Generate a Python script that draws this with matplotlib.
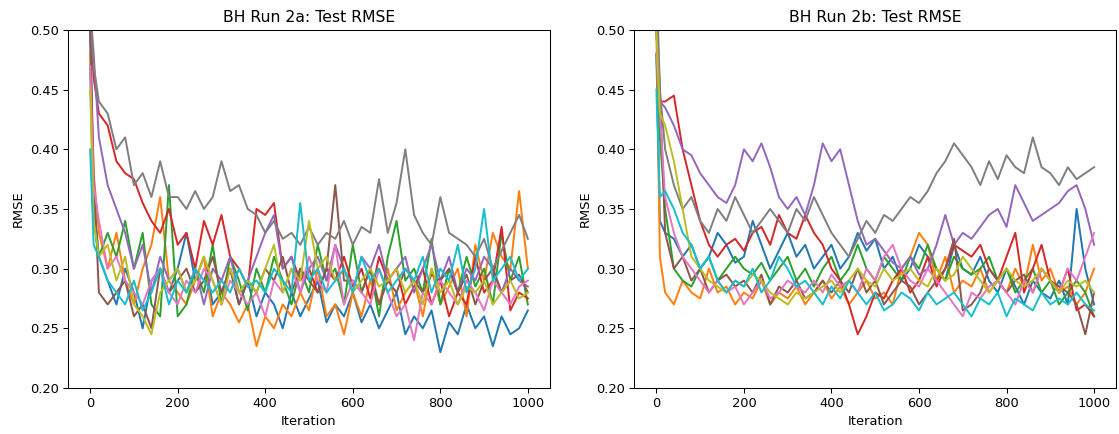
import matplotlib
matplotlib.use("Agg")
import matplotlib.pyplot as plt

iters = [0, 8] + list(range(20, 1001, 20))

# ── Run 2a ───────────────────────────────────────────────────────────
run2a_blue = [0.50, 0.36, 0.31, 0.29, 0.27, 0.30, 0.28, 0.25, 0.29, 0.30, 0.28, 0.30, 0.33,
              0.29, 0.31, 0.27, 0.28, 0.30, 0.27, 0.29, 0.26, 0.28, 0.27, 0.25, 0.28, 0.26,
              0.275, 0.29, 0.255, 0.27, 0.26, 0.28, 0.255, 0.27, 0.25, 0.265, 0.28, 0.245, 0.26,
              0.25, 0.265, 0.23, 0.255, 0.245, 0.27, 0.25, 0.26, 0.235, 0.26, 0.245, 0.25, 0.265]
run2a_orange = [0.48, 0.38, 0.33, 0.30, 0.33, 0.29, 0.27, 0.30, 0.32, 0.36, 0.29, 0.28, 0.27,
                0.29, 0.31, 0.26, 0.28, 0.27, 0.255, 0.27, 0.235, 0.26, 0.25, 0.27, 0.26, 0.28,
                0.265, 0.30, 0.26, 0.27, 0.245, 0.28, 0.26, 0.29, 0.27, 0.30, 0.265, 0.28, 0.29,
                0.26, 0.30, 0.27, 0.285, 0.30, 0.26, 0.32, 0.29, 0.33, 0.31, 0.30, 0.365, 0.30]
run2a_green = [0.47, 0.34, 0.31, 0.33, 0.31, 0.34, 0.30, 0.33, 0.27, 0.26, 0.37, 0.26, 0.27,
               0.30, 0.28, 0.32, 0.27, 0.31, 0.29, 0.265, 0.30, 0.28, 0.31, 0.29, 0.27, 0.30,
               0.28, 0.32, 0.29, 0.30, 0.27, 0.32, 0.28, 0.30, 0.26, 0.31, 0.34, 0.29, 0.30,
               0.28, 0.325, 0.27, 0.30, 0.28, 0.31, 0.285, 0.30, 0.27, 0.33, 0.29, 0.31, 0.27]
run2a_red = [0.52, 0.46, 0.43, 0.42, 0.39, 0.38, 0.375, 0.355, 0.34, 0.33, 0.35, 0.32, 0.33,
             0.30, 0.34, 0.32, 0.345, 0.31, 0.30, 0.285, 0.35, 0.345, 0.355, 0.30, 0.31, 0.29,
             0.30, 0.28, 0.30, 0.29, 0.31, 0.285, 0.30, 0.275, 0.31, 0.29, 0.30, 0.27, 0.285,
             0.30, 0.27, 0.29, 0.26, 0.28, 0.27, 0.31, 0.28, 0.29, 0.335, 0.265, 0.28, 0.275]
run2a_purple = [0.52, 0.48, 0.41, 0.37, 0.35, 0.33, 0.30, 0.32, 0.28, 0.31, 0.29, 0.30, 0.28,
                0.30, 0.27, 0.30, 0.29, 0.31, 0.28, 0.29, 0.31, 0.33, 0.345, 0.30, 0.31, 0.28,
                0.30, 0.31, 0.29, 0.32, 0.30, 0.28, 0.31, 0.30, 0.32, 0.29, 0.30, 0.31, 0.28,
                0.30, 0.32, 0.29, 0.31, 0.28, 0.30, 0.29, 0.31, 0.30, 0.28, 0.30, 0.29, 0.285]
run2a_brown = [0.50, 0.38, 0.28, 0.27, 0.28, 0.29, 0.26, 0.27, 0.25, 0.30, 0.28, 0.29, 0.30,
               0.28, 0.29, 0.31, 0.28, 0.30, 0.27, 0.29, 0.28, 0.30, 0.29, 0.31, 0.28, 0.30,
               0.29, 0.28, 0.30, 0.37, 0.29, 0.29, 0.28, 0.30, 0.27, 0.29, 0.28, 0.30, 0.29,
               0.28, 0.295, 0.29, 0.30, 0.28, 0.295, 0.27, 0.29, 0.30, 0.28, 0.29, 0.295, 0.28]
run2a_pink = [0.47, 0.37, 0.34, 0.30, 0.31, 0.29, 0.28, 0.27, 0.29, 0.30, 0.28, 0.27, 0.29,
              0.28, 0.30, 0.29, 0.27, 0.29, 0.28, 0.27, 0.28, 0.26, 0.29, 0.28, 0.30, 0.28,
              0.31, 0.29, 0.28, 0.32, 0.27, 0.29, 0.28, 0.27, 0.30, 0.28, 0.26, 0.27, 0.24,
              0.28, 0.27, 0.29, 0.28, 0.27, 0.29, 0.28, 0.265, 0.29, 0.28, 0.27, 0.285, 0.29]
run2a_gray = [0.52, 0.47, 0.44, 0.43, 0.40, 0.41, 0.37, 0.38, 0.36, 0.39, 0.36, 0.36, 0.35,
              0.365, 0.35, 0.36, 0.39, 0.365, 0.37, 0.35, 0.345, 0.33, 0.34, 0.325, 0.33, 0.32,
              0.335, 0.32, 0.33, 0.325, 0.34, 0.32, 0.335, 0.33, 0.375, 0.33, 0.355, 0.40, 0.345,
              0.33, 0.32, 0.36, 0.33, 0.325, 0.32, 0.31, 0.325, 0.30, 0.315, 0.33, 0.345, 0.325]
run2a_olive = [0.45, 0.34, 0.31, 0.32, 0.29, 0.31, 0.27, 0.26, 0.245, 0.28, 0.29, 0.30, 0.28,
               0.29, 0.31, 0.29, 0.27, 0.30, 0.28, 0.29, 0.28, 0.30, 0.32, 0.28, 0.30, 0.29,
               0.34, 0.30, 0.31, 0.29, 0.30, 0.28, 0.29, 0.30, 0.285, 0.29, 0.30, 0.28, 0.29,
               0.27, 0.30, 0.28, 0.29, 0.27, 0.285, 0.28, 0.29, 0.27, 0.28, 0.29, 0.275, 0.28]
run2a_cyan = [0.40, 0.32, 0.31, 0.29, 0.28, 0.27, 0.29, 0.265, 0.28, 0.30, 0.27, 0.29, 0.28,
              0.30, 0.29, 0.28, 0.29, 0.28, 0.30, 0.285, 0.29, 0.28, 0.30, 0.29, 0.28, 0.355,
              0.29, 0.30, 0.28, 0.29, 0.30, 0.28, 0.31, 0.29, 0.30, 0.28, 0.29, 0.30, 0.29,
              0.31, 0.28, 0.30, 0.29, 0.32, 0.28, 0.30, 0.35, 0.29, 0.30, 0.31, 0.29, 0.30]

# ── Run 2b ───────────────────────────────────────────────────────────
run2b_blue = [0.48, 0.34, 0.33, 0.325, 0.31, 0.32, 0.30, 0.31, 0.33, 0.32, 0.305, 0.31, 0.34,
              0.32, 0.30, 0.315, 0.33, 0.31, 0.32, 0.30, 0.31, 0.32, 0.30, 0.31, 0.33, 0.315,
              0.325, 0.30, 0.31, 0.29, 0.30, 0.32, 0.31, 0.30, 0.29, 0.32, 0.30, 0.295, 0.31,
              0.29, 0.28, 0.30, 0.285, 0.27, 0.29, 0.28, 0.275, 0.29, 0.27, 0.35, 0.30, 0.27]
run2b_orange = [0.50, 0.31, 0.28, 0.27, 0.29, 0.28, 0.275, 0.30, 0.28, 0.285, 0.27, 0.28, 0.275,
                0.29, 0.27, 0.28, 0.275, 0.285, 0.27, 0.28, 0.29, 0.275, 0.285, 0.27, 0.28, 0.29,
                0.275, 0.28, 0.27, 0.30, 0.31, 0.33, 0.32, 0.29, 0.31, 0.28, 0.29, 0.285, 0.30,
                0.28, 0.29, 0.28, 0.30, 0.285, 0.32, 0.29, 0.30, 0.28, 0.285, 0.27, 0.28, 0.30]
run2b_green = [0.48, 0.41, 0.35, 0.30, 0.29, 0.285, 0.30, 0.31, 0.29, 0.30, 0.31, 0.30, 0.295,
               0.305, 0.29, 0.30, 0.31, 0.29, 0.30, 0.285, 0.30, 0.31, 0.29, 0.30, 0.32, 0.30,
               0.29, 0.31, 0.30, 0.29, 0.31, 0.30, 0.32, 0.30, 0.29, 0.31, 0.30, 0.295, 0.30,
               0.31, 0.29, 0.30, 0.28, 0.29, 0.30, 0.28, 0.29, 0.27, 0.28, 0.29, 0.28, 0.26]
run2b_red = [0.50, 0.44, 0.44, 0.445, 0.40, 0.37, 0.34, 0.32, 0.31, 0.32, 0.325, 0.315, 0.33,
             0.335, 0.32, 0.345, 0.33, 0.325, 0.345, 0.33, 0.32, 0.30, 0.29, 0.27, 0.245, 0.26,
             0.28, 0.275, 0.29, 0.30, 0.28, 0.29, 0.31, 0.285, 0.30, 0.32, 0.315, 0.31, 0.32,
             0.30, 0.29, 0.31, 0.33, 0.28, 0.30, 0.32, 0.29, 0.28, 0.30, 0.265, 0.27, 0.26]
run2b_purple = [0.50, 0.44, 0.435, 0.42, 0.40, 0.395, 0.38, 0.37, 0.36, 0.355, 0.37, 0.40, 0.39,
                0.405, 0.385, 0.36, 0.35, 0.36, 0.345, 0.37, 0.405, 0.39, 0.40, 0.37, 0.34, 0.32,
                0.325, 0.315, 0.305, 0.30, 0.31, 0.295, 0.30, 0.32, 0.345, 0.32, 0.33, 0.325, 0.335,
                0.345, 0.35, 0.335, 0.37, 0.355, 0.34, 0.345, 0.35, 0.355, 0.365, 0.37, 0.35, 0.32]
run2b_brown = [0.52, 0.45, 0.33, 0.30, 0.31, 0.29, 0.30, 0.28, 0.29, 0.295, 0.285, 0.29, 0.28,
               0.295, 0.27, 0.285, 0.28, 0.29, 0.275, 0.28, 0.29, 0.28, 0.29, 0.28, 0.30, 0.28,
               0.29, 0.27, 0.28, 0.29, 0.285, 0.27, 0.28, 0.29, 0.30, 0.325, 0.265, 0.27, 0.28,
               0.30, 0.29, 0.28, 0.29, 0.295, 0.28, 0.30, 0.29, 0.285, 0.28, 0.27, 0.245, 0.28]
run2b_pink = [0.48, 0.43, 0.36, 0.33, 0.31, 0.30, 0.29, 0.28, 0.29, 0.28, 0.285, 0.27, 0.28,
              0.29, 0.275, 0.28, 0.29, 0.285, 0.28, 0.29, 0.28, 0.295, 0.285, 0.29, 0.28, 0.30,
              0.29, 0.31, 0.32, 0.30, 0.29, 0.285, 0.30, 0.29, 0.28, 0.27, 0.26, 0.28, 0.275,
              0.285, 0.29, 0.28, 0.27, 0.29, 0.28, 0.30, 0.29, 0.28, 0.30, 0.29, 0.31, 0.33]
run2b_gray = [0.55, 0.45, 0.40, 0.37, 0.35, 0.36, 0.34, 0.33, 0.35, 0.34, 0.36, 0.345, 0.33,
              0.34, 0.35, 0.34, 0.33, 0.35, 0.34, 0.36, 0.345, 0.33, 0.32, 0.31, 0.325, 0.34,
              0.33, 0.345, 0.34, 0.35, 0.36, 0.355, 0.365, 0.38, 0.39, 0.405, 0.395, 0.385, 0.37,
              0.39, 0.375, 0.395, 0.385, 0.38, 0.41, 0.385, 0.38, 0.37, 0.385, 0.375, 0.38, 0.385]
run2b_olive = [0.50, 0.43, 0.42, 0.39, 0.35, 0.31, 0.30, 0.29, 0.285, 0.28, 0.29, 0.285, 0.295,
               0.29, 0.28, 0.275, 0.27, 0.28, 0.275, 0.28, 0.285, 0.29, 0.28, 0.29, 0.30, 0.29,
               0.285, 0.30, 0.29, 0.295, 0.30, 0.29, 0.285, 0.30, 0.29, 0.295, 0.31, 0.30, 0.29,
               0.28, 0.29, 0.30, 0.29, 0.285, 0.29, 0.30, 0.29, 0.28, 0.29, 0.285, 0.29, 0.28]
run2b_cyan = [0.45, 0.36, 0.365, 0.35, 0.33, 0.32, 0.30, 0.31, 0.29, 0.28, 0.29, 0.285, 0.30,
              0.28, 0.29, 0.31, 0.30, 0.285, 0.29, 0.28, 0.27, 0.285, 0.275, 0.29, 0.28, 0.27,
              0.28, 0.265, 0.27, 0.28, 0.275, 0.265, 0.28, 0.27, 0.275, 0.28, 0.27, 0.26, 0.275,
              0.27, 0.28, 0.26, 0.275, 0.27, 0.265, 0.28, 0.27, 0.275, 0.27, 0.28, 0.27, 0.265]

panels = [
    ("BH Run 2a: Test RMSE",
     [run2a_blue, run2a_orange, run2a_green, run2a_red, run2a_purple,
      run2a_brown, run2a_pink, run2a_gray, run2a_olive, run2a_cyan]),
    ("BH Run 2b: Test RMSE",
     [run2b_blue, run2b_orange, run2b_green, run2b_red, run2b_purple,
      run2b_brown, run2b_pink, run2b_gray, run2b_olive, run2b_cyan]),
]

fig, axes = plt.subplots(1, 2, figsize=(1119 / 94, 434 / 94), dpi=94)
fig.subplots_adjust(left=0.061, right=0.9973, bottom=0.106, top=0.931, wspace=0.176)

for ax, (title, runs) in zip(axes, panels):
    for run in runs:
        assert len(run) == len(iters)
        ax.plot(iters, run)
    ax.set_ylim(0.2, 0.5)
    ax.set_title(title)
    ax.set_xlabel("Iteration")
    ax.set_ylabel("RMSE")

plt.savefig("out.png", dpi=94)
print("Saved out.png")
